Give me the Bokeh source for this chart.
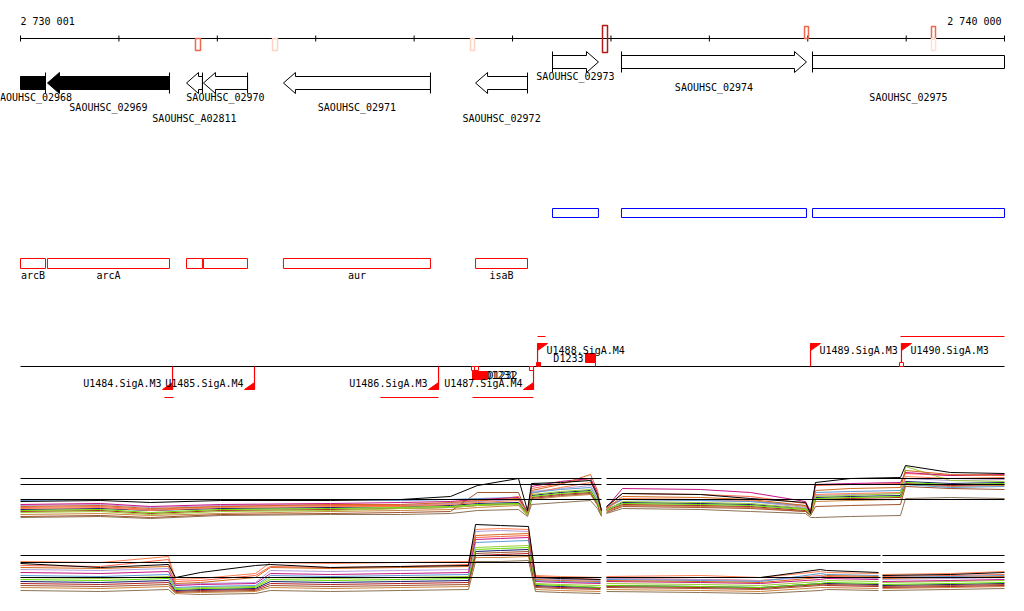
import math
from bokeh.plotting import figure
from bokeh.models import Range1d
from bokeh.core.properties import value
from bokeh.embed import file_html
from bokeh.resources import INLINE

nan = float("nan")

# ---------------- data ----------------
VIEW_START = 2730001
VIEW_END = 2740000
TICK_STEP = 1000

GENE_ID = ["SAOUHSC_02968", "SAOUHSC_02969", "SAOUHSC_A02811", "SAOUHSC_02970",
           "SAOUHSC_02971", "SAOUHSC_02972", "SAOUHSC_02973", "SAOUHSC_02974",
           "SAOUHSC_02975"]
GENE_START = [2729600, 2730275, 2731688, 2731860, 2732673, 2734625, 2735407, 2736108, 2738049]
GENE_END = [2730255, 2731515, 2731850, 2732308, 2734167, 2735153, 2735874, 2737988, 2740400]
GENE_STRAND = [-1, -1, -1, -1, -1, -1, 1, 1, 1]
GENE_NAME = ["arcB", "arcA", "", "", "aur", "isaB", "", "", ""]
GENE_FILLED = [True, True, False, False, False, False, False, False, False]
GENE_LANE = [0, 1, 2, 0, 1, 2, 0, 1, 2]

MARK_START = [2731779, 2732562, 2734574, 2735915, 2737968, 2739258, 2739258]
MARK_END = [2731830, 2732613, 2734615, 2735966, 2738008, 2739299, 2739299]
MARK_SIDE = ["-", "-", "-", "both", "+", "+", "-"]
MARK_COLOR = ["#f0674b", "#fbd3c2", "#fbd3c2", "#b31b1b", "#f0674b", "#f0674b", "#fbe1d6"]

PROM_NAME = ["U1484.SigA.M3", "U1485.SigA.M4", "U1486.SigA.M3", "U1487.SigA.M4",
             "U1488.SigA.M4", "U1489.SigA.M3", "U1490.SigA.M3"]
PROM_POS = [2731546, 2732379, 2734249, 2735214, 2735255, 2738029, 2738953]
PROM_STRAND = [-1, -1, -1, -1, 1, 1, 1]

TR_START = [2731464, 2733659, 2734594, 2735255, 2738943]
TR_END = [2731556, 2734249, 2735214, 2735336, 2740000]
TR_STRAND = [-1, -1, -1, 1, 1]

TSS_POS = [2734604, 2734635, 2735193, 2735265, 2738953]
TSS_STRAND = [-1, -1, -1, 1, 1]
TSS_FILLED = [False, False, False, True, False]

DSITE_NAME = ["D1231", "D1232", "D1233"]
DSITE_START = [2734594, 2734604, 2735742]
DSITE_END = [2734726, 2734746, 2735844]
DSITE_STRAND = [-1, -1, 1]

# expression panel 1 (values = signal level above panel baseline)
P1_POS = [2730001, 2730814, 2731322, 2732033, 2733151, 2733862, 2734370, 2734645, 2735061,
          2735153, 2735194, 2735488, 2735793, 2735864, 2735905, 2735930, 2735956, 2736118,
          2736911, 2737419, 2737978, 2738029, 2738079, 2738435, 2738943, 2738994, 2739451,
          2740000]
P1_S01 = [19, 20, 18, 20, 20, 21, 24, 35, 42, 10, 37, 38, 40, 25, 10, nan, 14, 27, 26, 22, 18, 7, 38, 42, 43, 55, 48, 47]
P1_S02 = [14, 15, 12, 14, 16, 16, 18, 20, 22, 8, 30, 36, 46, 30, 8, nan, 12, 24, 23, 21, 15, 8, 30, 32, 33, 50, 46, 45]
P1_S03 = [16, 17, 14, 16, 17, 18, 19, 21, 23, 9, 34, 39, 42, 28, 9, nan, 13, 32, 31, 28, 19, 9, 36, 37, 38, 48, 45, 46]
P1_S04 = [20, 21, 21, 21, 21, 20, 21, 22, 23, 8, 28, 31, 33, 22, 10, nan, 14, 21, 20, 19, 15, 8, 28, 29, 30, 36, 33, 34]
P1_S05 = [8, 9, 6, 9, 10, 12, 13, 15, 16, 6, 26, 29, 31, 20, 6, nan, 10, 19, 18, 17, 12, 6, 24, 25, 27, 54, 40, 39]
P1_S06 = [10, 11, 8, 11, 12, 13, 14, 16, 17, 7, 24, 27, 29, 18, 7, nan, 11, 17, 16, 15, 11, 7, 22, 23, 24, 38, 36, 37]
P1_S07 = [4, 5, 3, 6, 7, 8, 9, 28, 28, 6, 22, 25, 27, 16, 5, nan, 8, 14, 13, 12, 9, 5, 14, 15, 16, 34, 32, 31]
P1_S08 = [12, 13, 10, 13, 14, 14, 16, 18, 20, 8, 27, 33, 38, 26, 8, nan, 12, 22, 21, 20, 14, 8, 26, 27, 28, 44, 42, 43]
P1_S09 = [15, 16, 13, 15, 16, 16, 17, 19, 21, 9, 29, 32, 35, 24, 9, nan, 12, 21, 20, 19, 13, 8, 25, 26, 27, 42, 40, 41]
P1_S10 = [11, 12, 10, 12, 13, 14, 15, 17, 18, 7, 25, 28, 30, 19, 7, nan, 11, 18, 17, 16, 12, 7, 23, 24, 25, 39, 37, 38]
P1_S11 = [9, 10, 7, 10, 11, 12, 13, 15, 17, 6, 23, 26, 28, 17, 6, nan, 10, 16, 15, 14, 10, 6, 21, 22, 23, 37, 35, 36]
P1_S12 = [6, 7, 5, 7, 9, 10, 11, 13, 15, 5, 21, 24, 26, 15, 5, nan, 9, 15, 14, 13, 9, 5, 19, 20, 21, 36, 34, 35]
P1_S13 = [3, 4, 2, 5, 6, 6, 7, 10, 11, 4, 16, 18, 20, 12, 4, nan, 7, 12, 11, 9, 7, 3, 3, 4, 5, 22, 23, 22]
P1_S14 = [13, 14, 11, 14, 15, 15, 17, 19, 24, 8, 32, 37, 42, 27, 8, nan, 13, 27, 26, 24, 17, 9, 35, 36, 37, 47, 45, 46]
P1_REF = [42, 36, 21]
P1_SEGMENTS = [(2730001, 2735905), (2735956, 2740000)]

# expression panel 2
P2_POS = [2730001, 2730814, 2731505, 2731576, 2731830, 2732389, 2732541, 2733151, 2733862,
          2734553, 2734625, 2734879, 2735163, 2735234, 2735488, 2735895, 2735925, 2735956,
          2736911, 2737521, 2738130, 2738191, 2738720, 2738740, 2738760, 2739451, 2740000]
P2_S01 = [34, 30, 33, 20, 25, 32, 33, 30, 31, 32, 73, 72, 71, 20, 19, 18, nan, 20, 20, 20, 28, 27, 25, nan, 22, 23, 25]
P2_S02 = [30, 29, 31, 14, 15, 20, 30, 29, 30, 31, 62, 63, 64, 18, 17, 16, nan, 17, 16, 15, 20, 22, 21, nan, 19, 20, 21]
P2_S03 = [25, 24, 26, 12, 13, 14, 24, 23, 24, 25, 58, 59, 60, 16, 15, 14, nan, 16, 15, 14, 18, 19, 18, nan, 16, 17, 18]
P2_S04 = [22, 21, 23, 10, 11, 12, 22, 21, 22, 23, 55, 56, 57, 17, 16, 15, nan, 18, 17, 16, 24, 23, 22, nan, 20, 21, 22]
P2_S05 = [20, 19, 21, 9, 10, 11, 20, 19, 20, 21, 50, 51, 52, 14, 13, 12, nan, 14, 13, 12, 16, 17, 16, nan, 15, 16, 17]
P2_S06 = [18, 17, 19, 8, 9, 10, 18, 17, 18, 19, 48, 49, 50, 13, 12, 10, nan, 12, 11, 10, 14, 15, 14, nan, 13, 14, 15]
P2_S07 = [12, 11, 13, 5, 6, 7, 12, 11, 12, 13, 44, 45, 46, 10, 9, 8, nan, 10, 9, 8, 12, 13, 12, nan, 11, 12, 13]
P2_S08 = [36, 35, 41, 18, 19, 24, 35, 34, 35, 36, 68, 69, 68, 22, 21, 20, nan, 21, 22, 20, 26, 25, 24, nan, 23, 24, 26]
P2_S09 = [28, 27, 29, 13, 14, 15, 27, 26, 27, 28, 66, 67, 66, 19, 18, 17, nan, 19, 18, 17, 21, 20, 19, nan, 18, 19, 20]
P2_S10 = [16, 15, 17, 7, 8, 9, 16, 15, 16, 17, 46, 47, 48, 12, 11, 10, nan, 12, 11, 10, 14, 14, 13, nan, 12, 13, 14]
P2_S11 = [14, 13, 15, 6, 7, 8, 14, 13, 14, 15, 42, 43, 44, 11, 10, 9, nan, 11, 10, 9, 13, 12, 11, nan, 10, 11, 12]
P2_S12 = [10, 9, 11, 4, 5, 6, 10, 9, 10, 11, 40, 40, 41, 8, 7, 6, nan, 8, 7, 6, 10, 10, 9, nan, 9, 10, 11]
P2_S13 = [7, 6, 8, 2, 3, 4, 7, 6, 7, 8, 36, 36, 37, 6, 5, 4, nan, 6, 5, 4, 7, 8, 7, nan, 7, 8, 9]
P2_S14 = [32, 31, 38, 16, 17, 22, 31, 30, 31, 33, 60, 61, 62, 21, 20, 18, nan, 19, 18, 17, 22, 21, 20, nan, 21, 22, 23]
P2_REF = [42, 35, 20]
P2_SEGMENTS = [(2730001, 2735905), (2735956, 2738740), (2738760, 2740000)]

SERIES_COLORS = ["#000000", "#d2691e", "#c71585", "#5b9bd5", "#9acd32", "#66dd00", "#a0522d",
                 "#ff7f50", "#b39ddb", "#191970", "#b22222", "#cd853f", "#8b7355", "#ff6347"]

P1_SERIES = [P1_S01, P1_S02, P1_S03, P1_S04, P1_S05, P1_S06, P1_S07, P1_S08, P1_S09, P1_S10,
             P1_S11, P1_S12, P1_S13, P1_S14]
P2_SERIES = [P2_S01, P2_S02, P2_S03, P2_S04, P2_S05, P2_S06, P2_S07, P2_S08, P2_S09, P2_S10,
             P2_S11, P2_S12, P2_S13, P2_S14]

# ---------------- layout ----------------
W, H = 1008, 595
OFF = 0                     # figure is drawn at page (0,0); data y == screen y
AX_PX0, AX_PX1 = 20, 1004   # screen x of VIEW_START / VIEW_END
BPP = (VIEW_END - VIEW_START) / (AX_PX1 - AX_PX0)
X0 = VIEW_START - (AX_PX0 - OFF) * BPP
X1 = X0 + W * BPP

FONT = value("DejaVu Sans Mono")
FS = "10px"
RED = "#ff0000"

p = figure(width=W, height=H, output_backend="svg", toolbar_location=None,
           x_range=Range1d(X0, X1), y_range=Range1d(OFF + H, OFF),
           x_axis_location=None, y_axis_location=None, min_border=0,
           background_fill_color="white", border_fill_color="white")
p.outline_line_color = None
p.grid.visible = False

BASE1, BASE2 = 520, 597
p.extra_y_ranges = {"e1": Range1d(BASE1 - (OFF + H), BASE1 - OFF),
                    "e2": Range1d(BASE2 - (OFF + H), BASE2 - OFF)}


def txt(xs, ys, texts, align="center", color="black"):
    p.text(x=xs, y=ys, text=texts, text_font=FONT, text_font_size=FS,
           text_align=align, text_baseline="middle", text_color=color)


# ---- coordinate ruler ----
AXIS_Y = 38
p.segment(x0=[VIEW_START], y0=[AXIS_Y], x1=[VIEW_END], y1=[AXIS_Y], line_color="black", line_width=1)
ticks = list(range(VIEW_START, VIEW_END, TICK_STEP)) + [VIEW_END]
p.segment(x0=ticks, y0=[AXIS_Y - 3] * len(ticks), x1=ticks, y1=[AXIS_Y + 3] * len(ticks),
          line_color="black", line_width=1)


def fmt(n):
    return f"{n:,}".replace(",", " ")


txt([VIEW_START], [20.5], [fmt(VIEW_START)], align="left")
txt([VIEW_END - 3 * BPP], [20.5], [fmt(VIEW_END)], align="right")

# markers on ruler
side_y = {"+": (26, 38), "-": (38, 50), "both": (25, 52)}
p.quad(left=MARK_START, right=MARK_END,
       top=[side_y[s][0] for s in MARK_SIDE], bottom=[side_y[s][1] for s in MARK_SIDE],
       fill_color="white", fill_alpha=0, line_color=MARK_COLOR, line_width=1.5)

# ---- genes ----
ROW_Y = {1: 61.5, -1: 82.5}
BODY, HEAD = 6.5, 10.5
HEAD_LEN = 12 * BPP
polys_x, polys_y, fills = [], [], []
end_x, end_y0, end_y1 = [], [], []
lab_x, lab_y, lab_t = [], [], []
for gid, s, e, st, filled, lane in zip(GENE_ID, GENE_START, GENE_END, GENE_STRAND, GENE_FILLED, GENE_LANE):
    yc = ROW_Y[st]
    vs, ve = max(s, VIEW_START), min(e, VIEW_END)
    hl = min(HEAD_LEN, 0.8 * (e - s))
    if st > 0 and e <= VIEW_END:
        hb = max(vs, e - hl)
        xs = [vs, hb, hb, e, hb, hb, vs]
        ys = [yc - BODY, yc - BODY, yc - HEAD, yc, yc + HEAD, yc + BODY, yc + BODY]
    elif st < 0 and s >= VIEW_START:
        hb = min(ve, s + hl)
        xs = [ve, hb, hb, s, hb, hb, ve]
        ys = [yc - BODY, yc - BODY, yc - HEAD, yc, yc + HEAD, yc + BODY, yc + BODY]
    else:
        xs = [vs, ve, ve, vs]
        ys = [yc - BODY, yc - BODY, yc + BODY, yc + BODY]
    polys_x.append(xs)
    polys_y.append(ys)
    fills.append("black" if filled else "white")
    if st < 0 and e <= VIEW_END:
        end_x.append(e); end_y0.append(yc - HEAD); end_y1.append(yc + HEAD)
    if st > 0 and s >= VIEW_START:
        end_x.append(s); end_y0.append(yc - HEAD); end_y1.append(yc + HEAD)
    lab_x.append((vs + ve) / 2)
    lab_y.append((76 + 10.5 * lane) if st > 0 else (97 + 10.3 * lane))
    lab_t.append(gid)

p.patches(xs=polys_x, ys=polys_y, fill_color=fills, line_color="black", line_width=1)
p.segment(x0=end_x, y0=end_y0, x1=end_x, y1=end_y1, line_color="black", line_width=1)
txt(lab_x, lab_y, lab_t)

# ---- feature boxes (blue: forward, red: reverse with names) ----
bl, br, rl, rr, rn_x, rn_t = [], [], [], [], [], []
for s, e, st, nm in zip(GENE_START, GENE_END, GENE_STRAND, GENE_NAME):
    vs, ve = max(s, VIEW_START), min(e, VIEW_END)
    if st > 0:
        bl.append(vs); br.append(ve)
    else:
        rl.append(vs); rr.append(ve)
        if nm:
            rn_x.append((vs + ve) / 2); rn_t.append(nm)
p.quad(left=bl, right=br, top=[208] * len(bl), bottom=[217] * len(bl),
       fill_alpha=0, line_color="#0000ff", line_width=1)
p.quad(left=rl, right=rr, top=[258] * len(rl), bottom=[268] * len(rl),
       fill_alpha=0, line_color=RED, line_width=1)
txt(rn_x, [275] * len(rn_x), rn_t)

# ---- promoter track ----
PY = 366
p.segment(x0=[VIEW_START], y0=[PY], x1=[VIEW_END], y1=[PY], line_color="black", line_width=1)

# transcripts
p.segment(x0=TR_START, x1=TR_END,
          y0=[397 if st < 0 else 336 for st in TR_STRAND],
          y1=[397 if st < 0 else 336 for st in TR_STRAND], line_color=RED, line_width=1)

# D sites
for nm, s, e, st in zip(DSITE_NAME, DSITE_START, DSITE_END, DSITE_STRAND):
    if st > 0:
        p.quad(left=[s], right=[e], top=[353], bottom=[362], fill_color=RED, line_color=RED)
        p.segment(x0=[e], y0=[362], x1=[e], y1=[PY], line_color=RED)
        txt([s - 2 * BPP], [357.5], [nm], align="right")
    else:
        p.quad(left=[s], right=[e], top=[371], bottom=[379], fill_color=RED, line_color=RED)
        p.segment(x0=[s], y0=[PY], x1=[s], y1=[371], line_color=RED)
        txt([e], [375], [nm], align="left")

# promoter flags
TW = 10 * BPP
fl_x, fl_y0, fl_y1, tri_x, tri_y = [], [], [], [], []
lr_x, lr_y, lr_t, ll_x, ll_y, ll_t = [], [], [], [], [], []
for nm, pos, st in zip(PROM_NAME, PROM_POS, PROM_STRAND):
    fl_x.append(pos)
    if st < 0:
        fl_y0.append(PY); fl_y1.append(PY + 23)
        tri_x.append([pos, pos, pos - TW]); tri_y.append([PY + 16, PY + 23, PY + 23])
        lr_x.append(pos - 11 * BPP); lr_y.append(382.5); lr_t.append(nm)
    else:
        fl_y0.append(PY); fl_y1.append(PY - 23)
        tri_x.append([pos, pos + TW, pos]); tri_y.append([PY - 23, PY - 23, PY - 16])
        ll_x.append(pos + 9 * BPP); ll_y.append(349.5); ll_t.append(nm)
p.segment(x0=fl_x, y0=fl_y0, x1=fl_x, y1=fl_y1, line_color=RED, line_width=1.2)
p.patches(xs=tri_x, ys=tri_y, fill_color=RED, line_color=RED, line_width=1)
txt(lr_x, lr_y, lr_t, align="right")
txt(ll_x, ll_y, ll_t, align="left")

# TSS squares
SQ = 2 * BPP
p.quad(left=[x - SQ for x in TSS_POS], right=[x + SQ for x in TSS_POS],
       top=[PY if st < 0 else PY - 4 for st in TSS_STRAND],
       bottom=[PY + 4 if st < 0 else PY for st in TSS_STRAND],
       fill_color=[RED if f else "white" for f in TSS_FILLED], line_color=RED, line_width=1)

# ---- expression panels ----
for series, color in reversed(list(zip(P1_SERIES, SERIES_COLORS))):
    p.line(x=P1_POS, y=series, line_color=color, line_width=1, y_range_name="e1")
for series, color in reversed(list(zip(P2_SERIES, SERIES_COLORS))):
    p.line(x=P2_POS, y=series, line_color=color, line_width=1, y_range_name="e2")

for refs, segs, rng in ((P1_REF, P1_SEGMENTS, "e1"), (P2_REF, P2_SEGMENTS, "e2")):
    x0s, x1s, ys = [], [], []
    for r in refs:
        for a, b in segs:
            x0s.append(a); x1s.append(b); ys.append(r)
    p.segment(x0=x0s, y0=ys, x1=x1s, y1=ys, line_color="black", line_width=1.2, y_range_name=rng)

open("out.html", "w").write(file_html(p, INLINE))
